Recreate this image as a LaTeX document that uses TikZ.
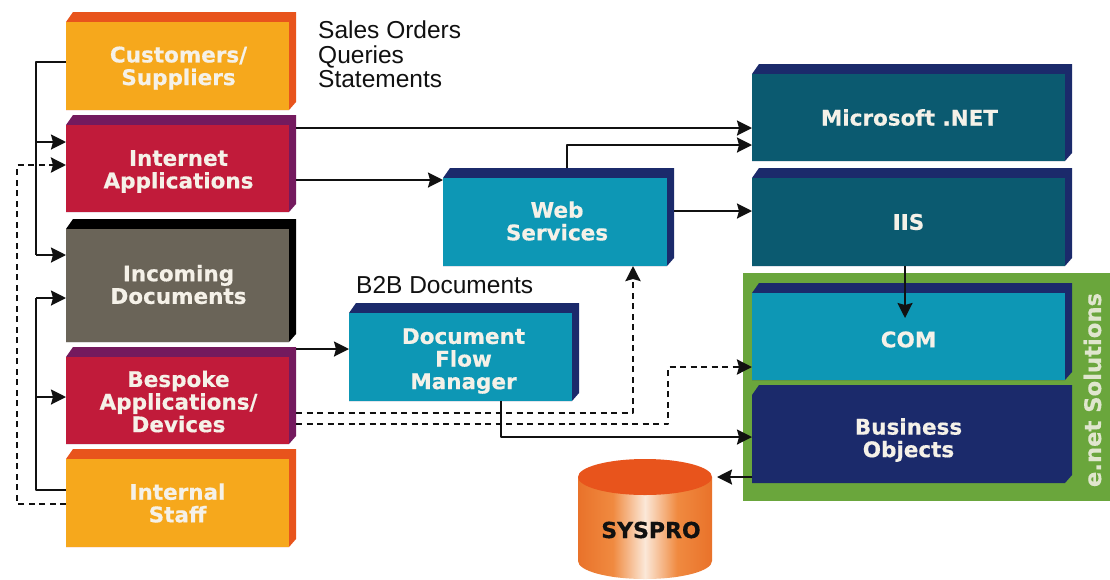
\documentclass[tikz,border=0pt]{standalone}
\usepackage{fontspec}
\setmainfont{Liberation Sans}
\newfontfamily\boxfont{DejaVu Sans Bold}[FakeBold=0.5]
\usetikzlibrary{arrows.meta}
\definecolor{orfront}{HTML}{F6A81C}
\definecolor{orside}{HTML}{E8541C}
\definecolor{redfront}{HTML}{C11B3A}
\definecolor{redside}{HTML}{741A5E}
\definecolor{greyfront}{HTML}{6A6458}
\definecolor{tealfront}{HTML}{0D97B5}
\definecolor{darkteal}{HTML}{0B5A70}
\definecolor{navy}{HTML}{1B2A6B}
\definecolor{solgreen}{HTML}{6AA63C}
\definecolor{boxtext}{HTML}{F5F1E8}
\definecolor{cylmid}{HTML}{FBE8D8}
\definecolor{cylend}{HTML}{E9722A}
\definecolor{cylhalf}{HTML}{F08A40}
\definecolor{ink}{HTML}{111111}
\pgfdeclarehorizontalshading{cylshade}{100bp}{color(0bp)=(cylend); color(25bp)=(cylend); color(38bp)=(cylhalf); color(50bp)=(cylmid); color(62bp)=(cylhalf); color(75bp)=(cylend); color(100bp)=(cylend)}
\tikzset{
  x=1pt,y=-1pt,
  slabtext/.style={inner sep=0pt,align=center,text=boxtext,font=\boxfont\fontsize{21.5}{22.6}\selectfont},
  plainlabel/.style={inner sep=0pt,anchor=west,align=left,text=ink,font=\fontsize{24.5}{24.7}\selectfont},
  link/.style={draw=ink,line width=2.2pt,line join=round},
  tip/.style={-{Stealth[length=15pt,width=15pt,inset=2pt]}},
  dashlink/.style={link,line width=2.6pt,dash pattern=on 6pt off 4.5pt},
}
% name, x0, y0, x1, y1, front, side, text, label offset
\newcommand\slab[9]{%
  \pgfmathsetmacro\sxa{#2}\pgfmathsetmacro\sya{#3}\pgfmathsetmacro\sxb{#4}\pgfmathsetmacro\syb{#5}%
  \fill[#7] (\sxa,\sya+10) -- (\sxa+7,\sya) -- (\sxb,\sya) -- (\sxb,\syb-8) -- (\sxb-7,\syb) -- (\sxa,\syb) -- cycle;
  \node[inner sep=0pt,outer sep=0pt,minimum width={(\sxb-\sxa)*1pt},minimum height={(\syb-\sya)*1pt}] (#1) at ({(\sxa+\sxb)/2},{(\sya+\syb)/2}) {};
  \node[fill=#6,inner sep=0pt,outer sep=0pt,minimum width={(\sxb-\sxa-7)*1pt},minimum height={(\syb-\sya-10)*1pt}] (#1-front) at ({(\sxa+\sxb-7)/2},{(\sya+\syb+10)/2}) {};
  \node[slabtext] (#1-text) at ([shift={(#9)}]#1-front.center) {#8};
}
\begin{document}
\begin{tikzpicture}
\useasboundingbox (0,0) rectangle (1110,579);
\fill[white] (0,0) rectangle (1110,579);
% green panel
\node[fill=solgreen,inner sep=0pt,outer sep=0pt,minimum width=367pt,minimum height=228pt] (panel) at (926.5,387) {};
\node[slabtext,rotate=90,font=\boxfont\fontsize{22.7}{24}\selectfont,text=boxtext!85!solgreen] (enet) at (1092.5,390) {e.net Solutions};
% left column
\slab{cust}{66}{12}{296}{110}{orfront}{orside}{Customers/\\Suppliers}{1,2}
\slab{inet}{66}{115}{296}{212}{redfront}{redside}{Internet\\Applications}{1,3}
\slab{incoming}{66}{219}{296}{342}{greyfront}{black}{Incoming\\Documents}{1,-1}
\slab{bespoke}{66}{347}{296}{444}{redfront}{redside}{Bespoke\\Applications/\\Devices}{1,1}
\slab{staff}{66}{449}{296}{547}{orfront}{orside}{Internal\\Staff}{0,0}
% middle
\slab{web}{443}{168}{674}{266}{tealfront}{navy}{Web\\Services}{2,-1}
\slab{dfm}{349}{303}{579}{401}{tealfront}{navy}{Document\\Flow\\Manager}{3,4}
% right
\slab{net}{752}{64}{1072}{161}{darkteal}{navy}{Microsoft .NET}{1,0}
\slab{iis}{752}{168}{1072}{266}{darkteal}{navy}{IIS}{0,0}
\slab{com}{752}{283}{1072}{380}{tealfront}{navy}{COM}{0,3}
\slab{bo}{752}{385}{1072}{483}{navy}{navy}{Business\\Objects}{0,1}
% cylinder
\path[shading=cylshade,shading angle=0]
  (578,477) -- (578,561) .. controls (578,571) and (608,579) .. (645,579)
  .. controls (682,579) and (712,571) .. (712,561) -- (712,477) -- cycle;
\fill[orside] (578,477) .. controls (578,467) and (608,459) .. (645,459)
  .. controls (682,459) and (712,467) .. (712,477)
  .. controls (712,487) and (682,495) .. (645,495)
  .. controls (608,495) and (578,487) .. (578,477) -- cycle;
\node[inner sep=0pt,outer sep=0pt,minimum width=139pt,minimum height=120pt] (db) at (647.5,519) {};
\node[inner sep=0pt,text=ink,font=\boxfont\fontsize{22}{24}\selectfont] (dblabel) at (651,530) {SYSPRO};
% plain labels
\node[plainlabel] (orders) at (318,54.5) {Sales Orders\\Queries\\Statements};
\node[plainlabel] (b2b) at (356,285) {B2B Documents};
% connectors
\coordinate (busa) at (36,62);
\coordinate (busb) at (36,490);
\coordinate (dasha) at (17,504);
\draw[link] (cust.west |- 0,62) -- (busa) -- (36,255);
\draw[link,tip] (36,142) -- (inet.west |- 0,142);
\draw[link,tip] (36,255) -- (incoming.west |- 0,255);
\draw[link] (staff.west |- 0,490) -- (busb) -- (36,298);
\draw[link,tip] (36,298) -- (incoming.west |- 0,298);
\draw[link,tip] (36,397) -- (bespoke.west |- 0,397);
\draw[dashlink,tip] (staff.west |- 0,504) -- (dasha) -- (17,165) -- (inet.west |- 0,165);
\draw[link,tip] (inet.east |- 0,128) -- (net.west |- 0,128);
\draw[link,tip] (inet.east |- 0,180) -- (web.west |- 0,180);
\draw[link,tip] (web.north -| 567,0) -- (567,145) -- (net.west |- 0,145);
\draw[link,tip] (web.east |- 0,211) -- (iis.west |- 0,211);
\draw[link,tip] (iis.south -| 905,0) -- (905,318);
\draw[link,tip] (bespoke.east |- 0,349) -- (dfm.west |- 0,349);
\draw[dashlink,tip] (bespoke.east |- 0,413) -- (633,413) -- (web.south -| 633,0);
\draw[dashlink,tip] (bespoke.east |- 0,424) -- (668,424) -- (668,367) -- (com.west |- 0,367);
\draw[link,tip] (dfm.south -| 501,0) -- (501,437) -- (bo.west |- 0,437);
\draw[link,tip] (bo.west |- 0,477) -- (db.east |- 0,477);
\end{tikzpicture}
\end{document}
